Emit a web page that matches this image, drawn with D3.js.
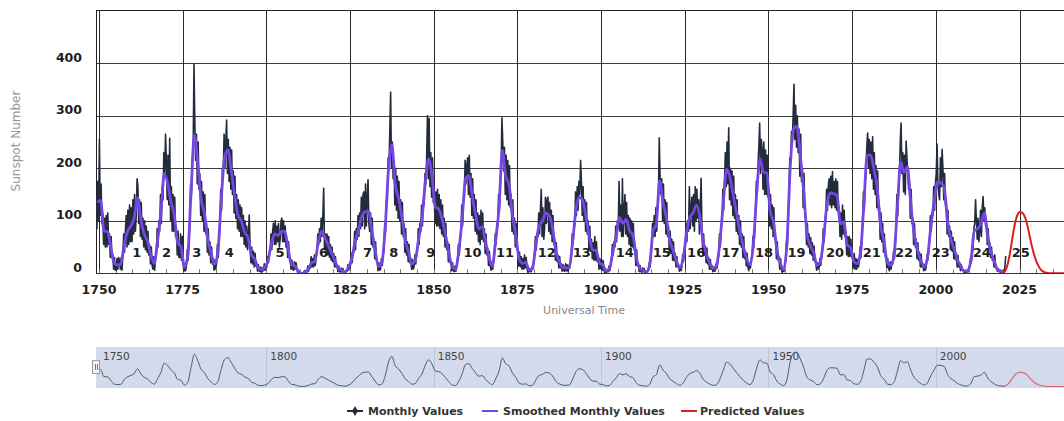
<!DOCTYPE html>
<html>
<head>
<meta charset="utf-8">
<script src="https://cdn.jsdelivr.net/npm/d3@7"></script>
<style>
  body { margin: 0; background: #fff; }
  svg { display: block; }
</style>
</head>
<body>
<svg id="chart" width="1064" height="421"></svg>
<script>
// Monthly sunspot numbers, sampled every quarter from 1749.0 (five years per row)
const monthlyStart = 1749;
const monthlyStep = 0.25;
const monthlyValues = [
  150,85,175,100, 255,110,170,95, 115,55,105,50, 110,50,115,55, 75,30,70,30,
  35,8,30,6, 5,28,8,30, 25,8,30,6, 35,75,40,80, 110,50,120,55,
  130,60,125,60, 140,75,150,80, 110,180,165,95, 140,70,135,65, 105,50,100,45,
  90,40,80,35, 55,18,50,15, 8,32,6,28, 35,85,50,100, 80,150,95,165,
  140,230,185,265, 215,140,225,130, 257,100,165,80, 150,80,145,70, 85,35,80,30,
  30,75,25,70, 20,4,18,5, 15,45,25,60, 100,170,150,215, 230,398,290,215,
  265,170,250,160, 190,110,175,100, 155,80,150,75, 95,40,85,35, 60,20,50,18,
  28,6,25,8, 20,55,30,70, 90,160,120,200, 190,265,200,250, 292,190,255,175,
  240,160,235,150, 195,115,185,105, 150,85,140,80, 130,70,125,70, 110,55,100,50,
  90,45,70,111, 55,20,50,18, 42,12,38,14, 18,4,16,5, 3,12,2,10,
  5,18,6,16, 12,32,20,40, 40,75,45,80, 95,55,100,55, 90,60,95,50,
  65,100,105,60, 100,60,90,50, 65,30,60,30, 28,8,25,8, 6,22,8,20,
  8,1,6,1, 0,0,0,0, 0,5,0,4, 2,14,4,12, 10,32,12,28,
  12,35,15,32, 40,75,55,85, 60,105,70,110, 162,45,75,40, 75,35,70,30,
  55,25,50,22, 38,12,32,12, 16,3,14,4, 2,10,3,9, 0,4,1,5,
  4,16,6,18, 15,38,20,42, 40,80,45,85, 65,110,70,115, 85,145,90,150,
  155,85,170,90, 145,178,95,80, 115,55,105,50, 65,28,60,25, 22,5,20,6,
  8,28,15,35, 45,95,80,140, 140,220,200,270, 345,200,250,180, 215,130,200,120,
  185,105,175,100, 140,75,135,70, 95,40,85,35, 60,22,55,20, 28,8,26,8,
  12,35,18,38, 45,85,55,95, 80,130,90,140, 130,190,170,215, 300,180,295,165,
  230,145,220,135, 165,95,155,90, 160,90,150,85, 140,75,130,70, 105,50,95,45,
  60,22,55,20, 22,5,20,5, 3,14,4,12, 25,55,35,65, 75,130,90,140,
  140,215,170,205, 220,150,225,145, 190,110,180,105, 150,80,140,75, 115,60,110,55,
  120,65,115,60, 85,38,75,35, 48,15,42,15, 6,22,8,24, 35,75,55,95,
  90,150,120,165, 200,296,250,195, 240,150,225,140, 215,130,205,125, 150,80,140,75,
  105,50,95,45, 45,14,40,12, 32,8,28,8, 35,10,30,9, 2,10,3,8,
  3,12,8,20, 35,70,45,75, 70,115,75,120, 160,70,125,65, 85,145,95,140,
  145,80,135,75, 120,60,110,55, 65,25,58,22, 35,10,32,10, 18,4,16,5,
  4,18,5,16, 3,15,10,22, 35,75,55,90, 90,155,110,165, 120,175,150,215,
  175,110,165,100, 140,80,135,75, 100,45,90,42, 65,28,58,25, 70,25,60,22,
  32,8,28,9, 26,6,24,5, 1,8,2,7, 3,14,5,15, 25,55,35,60,
  50,90,60,100, 85,175,80,130, 70,180,70,120, 150,75,135,70, 110,55,105,50,
  100,50,95,45, 50,15,45,14, 18,3,15,4, 2,10,3,9, 0,4,1,5,
  5,20,12,30, 50,95,70,110, 70,125,80,130, 140,258,180,150, 180,100,170,95,
  140,75,135,70, 90,40,80,38, 65,25,60,24, 38,12,32,12, 16,4,14,5,
  12,35,22,45, 50,95,60,100, 80,165,85,125, 145,90,150,80, 165,100,160,105,
  140,75,125,181, 85,38,75,35, 52,20,48,18, 30,8,26,8, 15,3,12,4,
  5,18,10,25, 35,75,50,90, 95,160,120,175, 230,165,250,170, 277,140,200,130,
  195,110,185,105, 150,80,140,75, 110,55,100,50, 75,30,70,28, 42,14,38,12,
  5,20,10,28, 35,70,50,80, 110,175,150,205, 240,286,190,255, 235,160,250,150,
  235,150,225,145, 160,90,150,85, 130,70,125,65, 70,28,60,25, 32,8,28,8,
  2,10,4,12, 25,60,50,100, 150,220,210,270, 250,300,360,255, 320,240,300,230,
  275,185,265,175, 200,125,190,115, 105,55,95,50, 75,38,68,35, 58,25,52,22,
  22,6,20,8, 10,28,15,32, 45,85,60,95, 110,160,120,165, 180,130,185,125,
  194,130,175,125, 180,120,175,115, 125,70,115,65, 130,75,120,70, 80,35,70,32,
  70,32,65,30, 35,10,38,8, 28,8,26,12, 22,50,30,60, 100,155,120,170,
  190,240,267,200, 255,190,250,180, 260,160,230,150, 205,125,195,120, 125,65,115,60,
  95,40,75,32, 32,10,28,10, 5,22,8,20, 18,42,28,50, 90,150,110,160,
  190,250,286,190, 230,155,225,150, 252,220,190,160, 175,105,160,95, 105,55,95,50,
  65,28,58,25, 40,12,36,12, 18,5,16,6, 12,35,25,45, 65,110,80,115,
  110,165,120,170, 190,246,170,150, 140,220,165,236, 200,140,190,130, 135,75,120,70,
  90,45,80,42, 68,28,60,26, 38,12,34,12, 20,5,16,6, 6,2,5,1,
  1,4,3,12, 15,28,22,35, 50,85,95,140, 100,65,105,60, 80,120,70,125,
  146,100,125,90, 95,55,85,50, 58,30,50,25, 32,12,35,10, 10,4,8,3,
  7,1,3,1, 6,2,10,33
];

// Smoothed monthly sunspot number, one value per year (centred mid-year) from 1749
const smoothedStart = 1749.5;
const smoothedValues = [
  135,139,80,80,51,20,16,17,54,79, 90,
  105,144,102,75,61,35,19,63,116,190,
  172,136,111,58,51,12,33,154,264,210,
  141,114,64,38,17,40,138,220,235,197,
  150,111,100,78,68,36,27,11,7,11,
  24,57,75,72,80,80,47,17,14,4,
  0,2,8,20,23,59,80,68,53,39,
  24,9,6,2,11,28,60,83,109,117,
  118,81,44,13,20,86,200,245,169,143,
  106,63,40,18,25,66,103,175,218,183,
  126,122,103,74,39,13,8,43,104,180,
  186,147,112,84,89,58,31,14,63,124,
  234,185,169,110,75,28,19,21,6,10,
  54,91,99,115,110,86,42,22,11,10,
  12,60,122,145,138,107,69,44,44,20,
  16,5,9,41,70,106,95,103,81,73,
  31,10,6,2,16,79,95,176,135,106,
  63,44,24,10,28,74,107,115,130,108,
  59,35,19,9,15,60,133,198,183,148,
  113,79,51,27,16,55,154,218,193,191,
  119,98,45,20,7,54,201,275,280,225,
  159,76,53,40,15,22,67,133,153,152,
  148,94,98,54,49,23,18,39,131,225,
  225,199,162,91,61,21,15,34,123,212,
  192,203,133,76,45,25,12,29,88,136,
  174,172,164,99,65,46,25,13,4,5,
  25,81,85,94,115,70,40,22,7,4,
  2
];

// Predicted smoothed values for cycle 25
const predictedYears  = [2020.3,2020.5,2021,2021.5,2022,2022.5,2023,2023.5,2024,2024.5,2025,2025.5,2026,2026.5,2027,2027.5,2028,2028.5,2029,2029.5,2030,2030.5,2031,2031.5,2032,2032.5,2033,2034,2040];
const predictedValues = [2,3,8,18,33,52,72,90,104,113,117,116,114,109,100,87,72,57,44,33,23,16,10,6,4,2,1,0,0];

const yTicks = [0, 100, 200, 300, 400];
const xTicks = [1750, 1775, 1800, 1825, 1850, 1875, 1900, 1925, 1950, 1975, 2000, 2025];
const navTicks = [1750, 1800, 1850, 1900, 1950, 2000];
const cycleNumbers = ["1","2","3","4","5","6","7","8","9","10","11","12","13","14","15","16","17","18","19","20","21","22","23","24","25"];
const cycleLabelYears = [1761.3,1770.2,1779.2,1788.9,1804.1,1817.1,1830.2,1838.1,1849.1,1861.6,1871.3,1883.8,1894.2,1907.1,1918.1,1928.4,1938.7,1948.7,1958.4,1969.9,1980.9,1990.5,2001.5,2013.7,2025.4];
const legendLabels = ["Monthly Values", "Smoothed Monthly Values", "Predicted Values"];
const seriesColors = ["#222c3c", "#7446e4", "#dc1e1e"];

// ---------------------------------------------------------------
const monthly = monthlyValues.map((v, i) => ({ t: monthlyStart + i * monthlyStep + monthlyStep / 2, v }));
const smoothed = smoothedValues.map((v, i) => ({ t: smoothedStart + i, v }));
const predicted = predictedValues.map((v, i) => ({ t: predictedYears[i], v }));

const svg = d3.select("#chart");
const plotLeft = 96, plotTop = 10, plotRight = 1070, plotBottom = 273.3;

const x = d3.scaleLinear().domain([1750, 2025]).range([99, 1019.5]);
const y = d3.scaleLinear().domain([0, 500]).range([plotBottom, 10.8]);

const defs = svg.append("defs");
defs.append("clipPath").attr("id", "plotClip")
  .append("rect").attr("x", plotLeft).attr("y", plotTop)
  .attr("width", plotRight - plotLeft).attr("height", plotBottom - plotTop);

// grid
const grid = svg.append("g");
grid.selectAll("line.h").data(yTicks.filter(d => d > 0)).join("line")
  .attr("x1", plotLeft).attr("x2", plotRight)
  .attr("y1", d => Math.round(y(d)) + 0.5).attr("y2", d => Math.round(y(d)) + 0.5)
  .attr("stroke", "#3c3c3c").attr("stroke-width", 1);
grid.selectAll("line.v").data(xTicks).join("line")
  .attr("x1", d => Math.round(x(d)) + 0.5).attr("x2", d => Math.round(x(d)) + 0.5)
  .attr("y1", plotTop).attr("y2", plotBottom)
  .attr("stroke", "#2a2a2a").attr("stroke-width", 1);

// minor ticks every five years
const minorYears = d3.range(1750, 2040, 5);
grid.selectAll("line.m").data(minorYears).join("line")
  .attr("x1", d => Math.round(x(d)) + 0.5).attr("x2", d => Math.round(x(d)) + 0.5)
  .attr("y1", plotBottom - 4).attr("y2", plotBottom)
  .attr("stroke", "#777").attr("stroke-width", 1);

// plot frame
svg.append("line").attr("x1", plotLeft + 0.5).attr("x2", plotLeft + 0.5)
  .attr("y1", plotTop).attr("y2", plotBottom).attr("stroke", "#222");
svg.append("line").attr("x1", plotLeft).attr("x2", plotRight)
  .attr("y1", plotTop + 0.5).attr("y2", plotTop + 0.5).attr("stroke", "#222");

// series
const series = svg.append("g").attr("clip-path", "url(#plotClip)");
const lineLinear = d3.line().x(d => x(d.t)).y(d => y(d.v));
const lineSmooth = d3.line().x(d => x(d.t)).y(d => y(d.v)).curve(d3.curveMonotoneX);

series.append("path").datum(monthly).attr("d", lineLinear)
  .attr("fill", "none").attr("stroke", seriesColors[0]).attr("stroke-width", 1.6)
  .attr("stroke-linejoin", "round");
series.append("path").datum(smoothed).attr("d", lineSmooth)
  .attr("fill", "none").attr("stroke", seriesColors[1]).attr("stroke-width", 2.8)
  .attr("stroke-linejoin", "round");
series.append("path").datum(predicted).attr("d", lineSmooth)
  .attr("fill", "none").attr("stroke", seriesColors[2]).attr("stroke-width", 2);

// x axis line
svg.append("line").attr("x1", plotLeft).attr("x2", plotRight)
  .attr("y1", Math.round(plotBottom) + 0.5).attr("y2", Math.round(plotBottom) + 0.5)
  .attr("stroke", "#333");

// cycle numbers
svg.append("g").selectAll("text").data(cycleNumbers).join("text")
  .attr("x", (d, i) => x(cycleLabelYears[i]))
  .attr("y", 252).attr("dy", "0.35em")
  .attr("text-anchor", "middle")
  .attr("font-family", "DejaVu Sans, sans-serif").attr("font-weight", "bold")
  .attr("font-size", 13).attr("fill", "#1e1e1e")
  .text(d => d);

// y tick labels
svg.append("g").selectAll("text").data(yTicks).join("text")
  .attr("x", 82).attr("y", d => y(d) - 6).attr("dy", "0.35em")
  .attr("text-anchor", "end")
  .attr("font-family", "DejaVu Sans, sans-serif").attr("font-weight", "bold")
  .attr("font-size", 12.5).attr("fill", "#1e1e1e")
  .text(d => d);

// x tick labels
svg.append("g").selectAll("text").data(xTicks).join("text")
  .attr("x", d => x(d)).attr("y", 290).attr("dy", "0.35em")
  .attr("text-anchor", "middle")
  .attr("font-family", "DejaVu Sans, sans-serif").attr("font-weight", "bold")
  .attr("font-size", 12.5).attr("fill", "#1e1e1e")
  .text(d => d);

// axis titles
svg.append("text").attr("transform", "translate(16,141) rotate(-90)")
  .attr("text-anchor", "middle").attr("dy", "0.35em")
  .attr("font-family", "DejaVu Sans, sans-serif").attr("font-size", 12)
  .attr("fill", "#999").text("Sunspot Number");
svg.append("text").attr("x", 584).attr("y", 310).attr("dy", "0.35em")
  .attr("text-anchor", "middle")
  .attr("font-family", "DejaVu Sans, sans-serif").attr("font-size", 11)
  .attr("fill", "#888").text("Universal Time");

// navigator
const navTop = 347, navBottom = 388;
const ny = d3.scaleLinear().domain([0, 290]).range([386.5, 351]);
const nav = svg.append("g");
defs.append("clipPath").attr("id", "navClip")
  .append("rect").attr("x", plotLeft).attr("y", navTop)
  .attr("width", plotRight - plotLeft).attr("height", navBottom - navTop);
nav.append("rect").attr("x", plotLeft).attr("y", navTop)
  .attr("width", plotRight - plotLeft).attr("height", navBottom - navTop)
  .attr("fill", "#d2daeb");
nav.selectAll("line").data(navTicks.slice(1)).join("line")
  .attr("x1", d => Math.round(x(d)) + 0.5).attr("x2", d => Math.round(x(d)) + 0.5)
  .attr("y1", navTop).attr("y2", navBottom)
  .attr("stroke", "#bcc5d8");
nav.selectAll("text").data(navTicks).join("text")
  .attr("x", d => x(d) + 4).attr("y", 356).attr("dy", "0.35em")
  .attr("font-family", "DejaVu Sans, sans-serif").attr("font-size", 10.5)
  .attr("fill", "#444").text(d => d);
const navLine = d3.line().x(d => x(d.t)).y(d => ny(d.v)).curve(d3.curveMonotoneX);
const navSeries = nav.append("g").attr("clip-path", "url(#navClip)");
navSeries.append("path").datum(smoothed).attr("d", navLine)
  .attr("fill", "none").attr("stroke", "#4e5a6c").attr("stroke-width", 1);
navSeries.append("path").datum(predicted).attr("d", navLine)
  .attr("fill", "none").attr("stroke", "#d46a6a").attr("stroke-width", 1.2);
// left handle
nav.append("rect").attr("x", 92.5).attr("y", 360.5).attr("width", 7).attr("height", 13)
  .attr("fill", "#f4f4f4").attr("stroke", "#999");
nav.selectAll("line.grip").data([95, 97]).join("line")
  .attr("x1", d => d + 0.5).attr("x2", d => d + 0.5).attr("y1", 364).attr("y2", 370)
  .attr("stroke", "#777");

// legend
const legend = svg.append("g").attr("font-family", "DejaVu Sans, sans-serif")
  .attr("font-weight", "bold").attr("font-size", 11).attr("fill", "#333");
const legendSymbolX = [347, 482, 681];
const legendTextX = [368, 503, 700];
legendLabels.forEach((label, i) => {
  legend.append("line").attr("x1", legendSymbolX[i]).attr("x2", legendSymbolX[i] + 16)
    .attr("y1", 411).attr("y2", 411)
    .attr("stroke", seriesColors[i]).attr("stroke-width", 2);
  if (i === 0) {
    legend.append("path").attr("d", d3.symbol(d3.symbolDiamond, 30)())
      .attr("transform", `translate(${legendSymbolX[i] + 8},411)`)
      .attr("fill", seriesColors[i]);
  }
  legend.append("text").attr("x", legendTextX[i]).attr("y", 411).attr("dy", "0.35em")
    .text(label);
});
</script>
</body>
</html>
